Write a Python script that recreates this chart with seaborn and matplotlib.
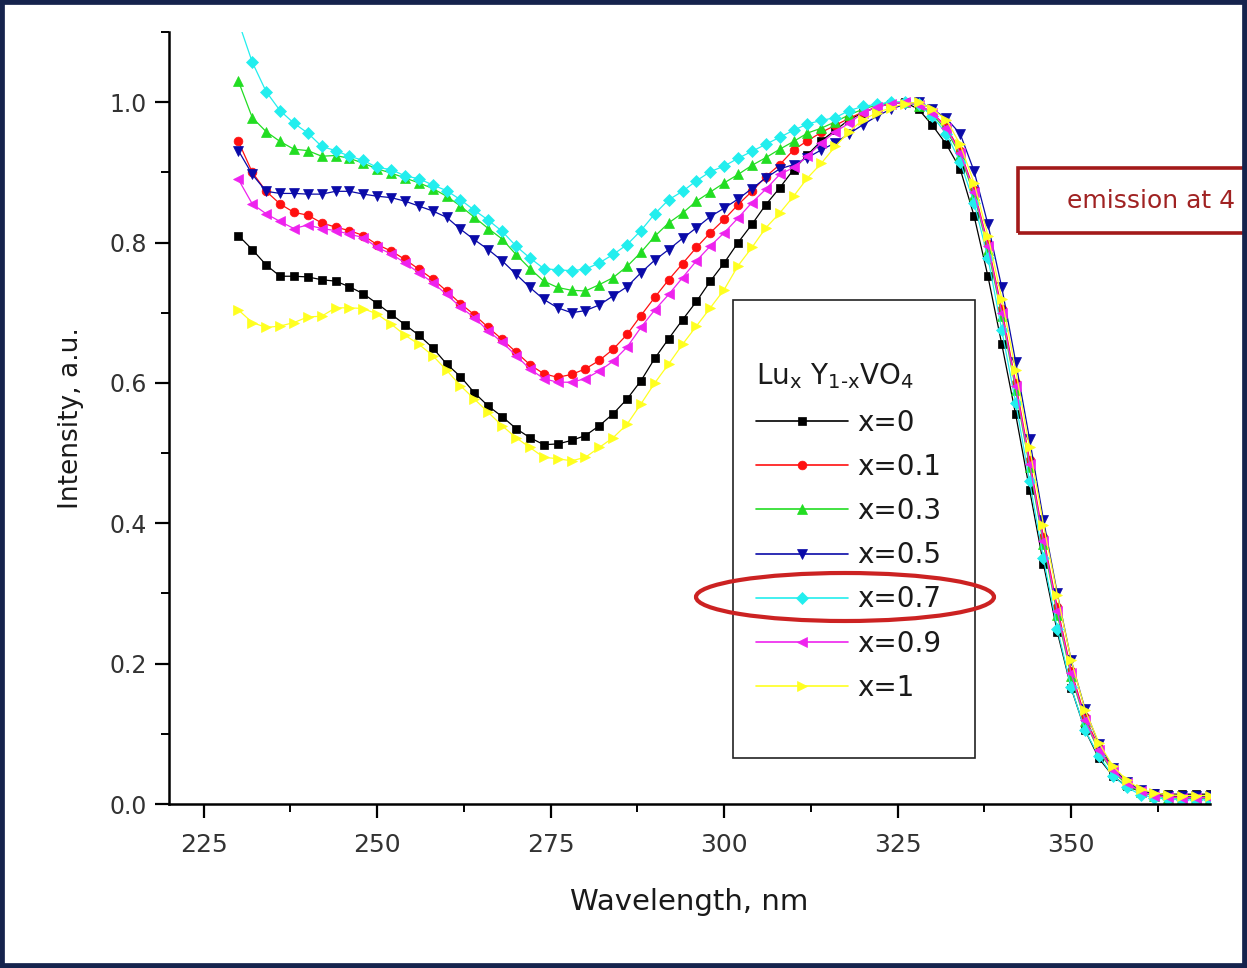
import numpy as np
import pandas as pd
import matplotlib
matplotlib.use("Agg")
import matplotlib.pyplot as plt
from matplotlib.patches import Rectangle, Ellipse
from matplotlib.ticker import MultipleLocator
import seaborn as sns

# ---------------- data ----------------
wavelength = list(range(230, 372, 2))  # nm

x0 = [0.81, 0.79, 0.768, 0.752, 0.752, 0.751, 0.747, 0.745, 0.737, 0.727,
      0.713, 0.698, 0.683, 0.668, 0.65, 0.627, 0.609, 0.586, 0.567, 0.552,
      0.535, 0.522, 0.512, 0.513, 0.518, 0.525, 0.539, 0.556, 0.577, 0.603,
      0.635, 0.663, 0.69, 0.716, 0.745, 0.771, 0.8, 0.826, 0.854, 0.878,
      0.904, 0.925, 0.945, 0.96, 0.975, 0.985, 0.993, 0.998, 1.0, 0.99,
      0.967, 0.94, 0.905, 0.838, 0.752, 0.655, 0.555, 0.448, 0.342, 0.245,
      0.165, 0.105, 0.065, 0.04, 0.025, 0.018, 0.015, 0.014, 0.014, 0.014, 0.014]

x01 = [0.944, 0.90, 0.873, 0.855, 0.843, 0.839, 0.828, 0.822, 0.817, 0.81,
       0.797, 0.788, 0.776, 0.762, 0.748, 0.731, 0.713, 0.697, 0.679, 0.662,
       0.644, 0.626, 0.613, 0.608, 0.612, 0.62, 0.632, 0.648, 0.669, 0.696,
       0.722, 0.747, 0.77, 0.793, 0.814, 0.833, 0.854, 0.873, 0.894, 0.911,
       0.932, 0.945, 0.957, 0.967, 0.977, 0.986, 0.993, 0.998, 1.0, 0.997,
       0.985, 0.965, 0.93, 0.875, 0.798, 0.705, 0.6, 0.49, 0.38, 0.28,
       0.19, 0.124, 0.08, 0.05, 0.031, 0.019, 0.013, 0.011, 0.01, 0.01, 0.01]

x03 = [1.03, 0.978, 0.958, 0.944, 0.933, 0.931, 0.923, 0.924, 0.920, 0.913,
       0.905, 0.899, 0.892, 0.885, 0.877, 0.866, 0.852, 0.836, 0.82, 0.805,
       0.783, 0.763, 0.745, 0.736, 0.732, 0.731, 0.74, 0.75, 0.766, 0.786,
       0.809, 0.828, 0.842, 0.859, 0.872, 0.885, 0.897, 0.91, 0.921, 0.933,
       0.944, 0.956, 0.963, 0.972, 0.982, 0.99, 0.996, 1.0, 1.0, 0.995,
       0.983, 0.96, 0.925, 0.868, 0.79, 0.695, 0.59, 0.48, 0.37, 0.27,
       0.182, 0.118, 0.075, 0.046, 0.028, 0.017, 0.011, 0.009, 0.008, 0.008, 0.008]

x05 = [0.931, 0.897, 0.873, 0.870, 0.870, 0.869, 0.869, 0.873, 0.873, 0.869,
       0.866, 0.864, 0.859, 0.852, 0.845, 0.836, 0.819, 0.804, 0.79, 0.774,
       0.755, 0.736, 0.719, 0.707, 0.70, 0.703, 0.711, 0.724, 0.737, 0.757,
       0.775, 0.79, 0.806, 0.821, 0.837, 0.849, 0.862, 0.877, 0.892, 0.905,
       0.911, 0.921, 0.932, 0.942, 0.955, 0.968, 0.98, 0.99, 0.997, 1.0,
       0.99, 0.977, 0.955, 0.902, 0.826, 0.736, 0.63, 0.52, 0.405, 0.30,
       0.205, 0.135, 0.085, 0.052, 0.032, 0.02, 0.014, 0.012, 0.011, 0.011, 0.011]

x07 = [1.115, 1.057, 1.015, 0.988, 0.970, 0.956, 0.937, 0.931, 0.923, 0.917,
       0.907, 0.904, 0.895, 0.891, 0.882, 0.874, 0.861, 0.846, 0.832, 0.816,
       0.795, 0.778, 0.763, 0.761, 0.760, 0.762, 0.771, 0.783, 0.797, 0.817,
       0.841, 0.861, 0.873, 0.888, 0.901, 0.909, 0.92, 0.93, 0.94, 0.95,
       0.96, 0.969, 0.974, 0.978, 0.988, 0.994, 0.997, 1.0, 1.0, 0.997,
       0.98, 0.955, 0.915, 0.857, 0.778, 0.675, 0.572, 0.46, 0.35, 0.25,
       0.166, 0.105, 0.068, 0.04, 0.024, 0.013, 0.009, 0.007, 0.006, 0.006, 0.006]

x09 = [0.89, 0.855, 0.841, 0.83, 0.82, 0.825, 0.82, 0.817, 0.812, 0.807,
       0.793, 0.784, 0.771, 0.757, 0.743, 0.726, 0.708, 0.693, 0.674, 0.658,
       0.639, 0.62, 0.606, 0.601, 0.601, 0.606, 0.617, 0.631, 0.651, 0.679,
       0.704, 0.726, 0.75, 0.774, 0.795, 0.814, 0.835, 0.857, 0.876, 0.897,
       0.907, 0.923, 0.942, 0.958, 0.97, 0.985, 0.993, 0.998, 1.0, 0.996,
       0.985, 0.963, 0.928, 0.872, 0.795, 0.70, 0.595, 0.485, 0.375, 0.275,
       0.186, 0.12, 0.077, 0.048, 0.03, 0.018, 0.012, 0.01, 0.009, 0.009, 0.009]

x1 = [0.704, 0.686, 0.679, 0.681, 0.686, 0.694, 0.695, 0.707, 0.707, 0.706,
      0.698, 0.684, 0.668, 0.655, 0.639, 0.618, 0.596, 0.577, 0.558, 0.539,
      0.522, 0.508, 0.494, 0.492, 0.489, 0.494, 0.508, 0.522, 0.541, 0.57,
      0.6, 0.627, 0.655, 0.681, 0.707, 0.733, 0.767, 0.793, 0.821, 0.842,
      0.866, 0.892, 0.913, 0.937, 0.958, 0.975, 0.985, 0.992, 0.998, 1.0,
      0.99, 0.975, 0.94, 0.885, 0.81, 0.72, 0.618, 0.508, 0.398, 0.298,
      0.205, 0.134, 0.087, 0.054, 0.034, 0.021, 0.016, 0.013, 0.012, 0.012, 0.012]

series_labels = ["x=0", "x=0.1", "x=0.3", "x=0.5", "x=0.7", "x=0.9", "x=1"]
series_values = [x0, x01, x03, x05, x07, x09, x1]
series_colors = ["#000000", "#ff1010", "#22dd22", "#0a0aa8", "#22eeee", "#ee22ee", "#ffff20"]
series_markers = ["s", "o", "^", "v", "D", "<", ">"]
series_msizes = [6.3, 6.3, 7.8, 7.8, 6.3, 7.8, 7.8]

x_ticks = [225, 250, 275, 300, 325, 350]
y_ticks = [0.0, 0.2, 0.4, 0.6, 0.8, 1.0]

legend_title = r"Lu$_{\mathregular{x}}$ Y$_{\mathregular{1\text{-}x}}$VO$_{\mathregular{4}}$"
annotation = "emission at 4"

# ---------------- style ----------------
sns.set_style("ticks")
plt.rcParams["font.family"] = ["DejaVu Sans"]

W, H = 1247, 968
fig = plt.figure(figsize=(W / 100, H / 100), dpi=100)
ax = fig.add_axes([169 / W, 1 - 804 / H, (1210 - 169) / W, (804 - 32) / H])

for lab, vals, col, mk, ms in zip(series_labels, series_values, series_colors,
                                  series_markers, series_msizes):
    df = pd.DataFrame({"Wavelength": wavelength, "Intensity": vals})
    sns.lineplot(data=df, x="Wavelength", y="Intensity", ax=ax, color=col,
                 marker=mk, markersize=ms, markeredgecolor=col, markeredgewidth=0.5,
                 linewidth=0.9, label=lab, errorbar=None)

ax.set_xlim(220, 370)
ax.set_ylim(0, 1.1)
ax.set_xticks(x_ticks)
ax.set_yticks(y_ticks)
ax.set_yticklabels([f"{v:.1f}" for v in y_ticks])
ax.xaxis.set_minor_locator(MultipleLocator(12.5))
ax.yaxis.set_minor_locator(MultipleLocator(0.1))

for side in ["top", "right"]:
    ax.spines[side].set_visible(False)
for side in ["left", "bottom"]:
    ax.spines[side].set_linewidth(1.8)
    ax.spines[side].set_color("black")

ax.tick_params(axis="both", which="major", direction="out", length=10, width=1.6,
               color="black")
ax.tick_params(axis="both", which="minor", direction="out", length=6, width=1.4,
               color="black")
ax.tick_params(axis="x", labelsize=18, labelcolor="#333333", pad=11)
ax.tick_params(axis="y", labelsize=17, labelcolor="#333333", pad=6)

ax.set_xlabel("Wavelength, nm", fontsize=21, color="#1a1a1a", labelpad=22)
ax.set_ylabel("Intensity, a.u.", fontsize=19, color="#1a1a1a", labelpad=18)

# ---------------- legend ----------------
leg = ax.legend(loc="upper left",
                bbox_to_anchor=(756 / W, 1 - 409 / H), bbox_transform=fig.transFigure,
                frameon=False, fontsize=20,
                handlelength=3.3, handletextpad=0.35, labelspacing=0.58,
                borderpad=0, borderaxespad=0)
for t in leg.get_texts():
    t.set_color("#1a1a1a")
for h in leg.legend_handles:
    h.set_linewidth(1.2)

fig.text(756 / W, 1 - 384 / H, legend_title, fontsize=20, color="#1a1a1a",
         ha="left", va="baseline")

# legend frame
fig.patches.append(Rectangle((733 / W, 1 - 758 / H), (975 - 733) / W, (758 - 300) / H,
                             transform=fig.transFigure, fill=False,
                             edgecolor="#222222", linewidth=1.2, zorder=5))

# red ellipse highlighting x=0.7
fig.patches.append(Ellipse((845 / W, 1 - 597 / H), 298 / W, 48 / H,
                           transform=fig.transFigure, fill=False,
                           edgecolor="#cc2222", linewidth=3.0, zorder=6))

# emission box (clipped on the right by the figure edge)
fig.patches.append(Rectangle((1018 / W, 1 - 233 / H), 300 / W, 65 / H,
                             transform=fig.transFigure, fill=False,
                             edgecolor="#a31a1a", linewidth=2.6, zorder=6))
fig.text(1067 / W, 1 - 201 / H, annotation, fontsize=18, color="#a02222",
         ha="left", va="center")

# dark navy frame around the whole picture
fig.patches.append(Rectangle((0, 0), 1, 1, transform=fig.transFigure, fill=False,
                             edgecolor="#15234d", linewidth=7, zorder=10))

fig.savefig("out.png", dpi=100, facecolor="white")
